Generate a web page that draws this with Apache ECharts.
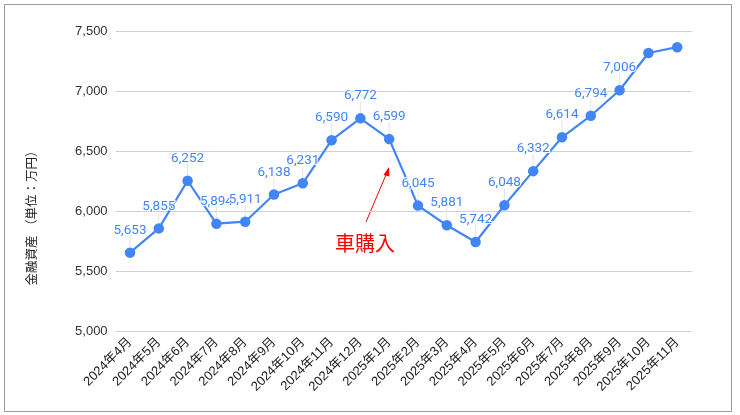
<!DOCTYPE html>
<html><head><meta charset="utf-8">
<script src="https://cdn.jsdelivr.net/npm/echarts@6/dist/echarts.min.js"></script>
<style>html,body{margin:0;padding:0;background:#fff}#c{width:740px;height:415px}</style>
</head><body><div id="c"></div>
<script>
const categories = ['2024年4月','2024年5月','2024年6月','2024年7月','2024年8月','2024年9月','2024年10月','2024年11月','2024年12月','2025年1月','2025年2月','2025年3月','2025年4月','2025年5月','2025年6月','2025年7月','2025年8月','2025年9月','2025年10月','2025年11月'];
const values = [5653,5855,6252,5894,5911,6138,6231,6590,6772,6599,6045,5881,5742,6048,6332,6614,6794,7006,7317,7365];
const showLabel = [1,1,1,1,1,1,1,1,1,1,1,1,1,1,1,1,1,1,0,0];
const yTicks = [5000,5500,6000,6500,7000,7500];
const yAxisName = '金融資産 （単位：万円）';
const annotationText = '車購入';

const chart = echarts.init(document.getElementById('c'), null, {renderer:'canvas'});
const blue = '#4285f4';
const jp = "'Liberation Sans','Noto Sans CJK JP',sans-serif";
chart.setOption({
  animation:false,
  grid:{left:115.6,right:48.4,top:31,bottom:84},
  xAxis:{type:'category',data:categories,boundaryGap:true,
    axisLine:{show:false},axisTick:{show:false},
    axisLabel:{rotate:45,interval:0,fontSize:13,color:'#222',fontFamily:jp,margin:9}},
  yAxis:{type:'value',min:yTicks[0],max:yTicks[yTicks.length-1],interval:500,
    axisLine:{show:false},axisTick:{show:false},
    splitLine:{lineStyle:{color:'#d0d0d0',width:1}},
    axisLabel:{fontSize:13,color:'#333',fontFamily:jp,margin:8,
      formatter:v=>v.toLocaleString('en-US')}},
  series:[
    {type:'custom',z:1,silent:true,
     renderItem:(params,api)=>{
       const i=api.value(0);
       if(!showLabel[i]) return null;
       const p=api.coord([i,api.value(1)]);
       return {type:'line',shape:{x1:p[0],y1:p[1]-5,x2:p[0],y2:p[1]-17},style:{stroke:'#e4e4e4',lineWidth:1}};
     },
     data:values.map((v,i)=>[i,v])},
    {type:'line',z:3,data:values.map((v,i)=>({value:v,label:{show:!!showLabel[i]}})),
     symbol:'circle',symbolSize:10.5,
     lineStyle:{color:blue,width:2.2},itemStyle:{color:blue},
     label:{position:'top',distance:10,fontSize:13.5,color:blue,fontFamily:"Roboto,sans-serif",
       textBorderColor:'#fff',textBorderWidth:2,
       formatter:p=>p.value.toLocaleString('en-US')}}
  ],
  graphic:[
    {type:'rect',shape:{x:4.5,y:4.5,width:727,height:407},style:{fill:null,stroke:'#9a9a9a',lineWidth:1},silent:true},
    {type:'text',x:33,y:215,rotation:Math.PI/2,style:{text:yAxisName,fontSize:12.5,fill:'#222',fontFamily:jp,align:'center',verticalAlign:'middle'}},
    {type:'text',x:365,y:243,style:{text:annotationText,fontSize:20,fill:'#f00',fontFamily:"'Noto Sans CJK JP',sans-serif",align:'center',verticalAlign:'middle'}},
    {type:'line',shape:{x1:366,y1:222,x2:388,y2:170},style:{stroke:'#f00',lineWidth:1}},
    {type:'polygon',shape:{points:[[389,167],[383.5,175],[389.5,176.5]]},style:{fill:'#f00'}}
  ]
});
</script></body></html>
